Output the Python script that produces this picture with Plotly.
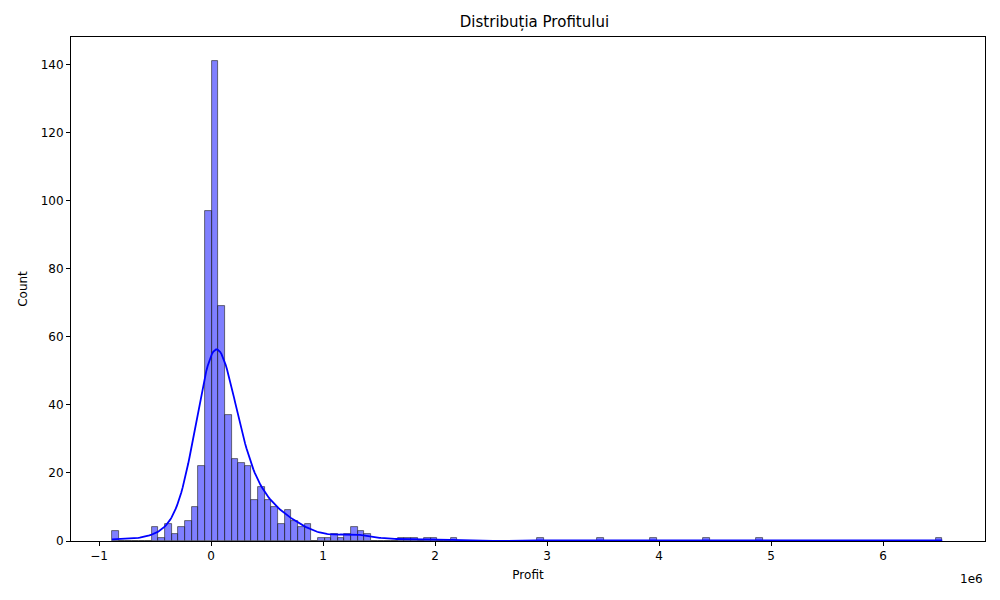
import numpy as np
import plotly.graph_objects as go

x_start = -0.884e6
bin_width = 0.0593e6
counts = [3,0,0,0,0,0,4,1,5,2,4,6,10,22,97,141,69,37,24,23,22,12,16,12,10,5,9,6,4,5,
          0,1,1,2,1,2,4,3,2,0,0,0,0,1,1,1,0,1,1,0,0,1,0,0,0,0,0,0,0,0,0,0,0,0,1,0,0,0,0,0,
          0,0,0,1,0,0,0,0,0,0,0,1,0,0,0,0,0,0,0,1,0,0,0,0,0,0,0,1,0,0,0,0,0,0,0,0,0,0,0,0,
          0,0,0,0,0,0,0,0,0,0,0,0,0,0,1]
xtick_vals = [-1, 0, 1, 2, 3, 4, 5, 6]

counts = np.array(counts, dtype=float)
centers = x_start + bin_width * (np.arange(len(counts)) + 0.5)

n = counts.sum()
mean = (centers * counts).sum() / n
std = np.sqrt(((centers - mean) ** 2 * counts).sum() / n)
bw = std * n ** (-0.2)
grid = np.linspace(centers.min() - bin_width / 2, centers.max() + bin_width / 2, 600)
dens = (counts[None, :] * np.exp(-0.5 * ((grid[:, None] - centers[None, :]) / bw) ** 2)).sum(1)
dens = dens / (n * bw * np.sqrt(2 * np.pi)) * n * bin_width

fig = go.Figure()
fig.add_trace(go.Bar(x=centers, y=counts, width=bin_width,
                     marker=dict(color="rgba(0,0,255,0.5)", line=dict(color="rgba(40,40,40,0.8)", width=0.8)),
                     showlegend=False))
fig.add_trace(go.Scatter(x=grid, y=dens, mode="lines", line=dict(color="#0000ff", width=1.8), showlegend=False))

axis_common = dict(showline=True, linecolor="black", linewidth=1, mirror=True, ticks="outside",
                   ticklen=4, tickcolor="black", showgrid=False, zeroline=False,
                   tickfont=dict(family="DejaVu Sans", size=12, color="black"))
fig.update_layout(
    width=984, height=584, plot_bgcolor="white", paper_bgcolor="white",
    margin=dict(l=63, r=7, t=29, b=51), bargap=0,
    title=dict(text="Distribuția Profitului", x=0.535, xanchor="center", yref="container", y=0.976, yanchor="middle",
               font=dict(family="DejaVu Sans", size=15, color="black")),
    font=dict(family="DejaVu Sans", color="black"),
    xaxis=dict(range=[-1.25e6, 6.91e6], tickvals=[v * 1e6 for v in xtick_vals],
               ticktext=[str(v) if v >= 0 else "\u2212" + str(-v) for v in xtick_vals],
               title=dict(text="Profit", font=dict(size=12), standoff=8), **axis_common),
    yaxis=dict(range=[0, 148.2], dtick=20, title=dict(text="Count", font=dict(size=12), standoff=10), **axis_common),
)
fig.add_annotation(text="1e6", xref="paper", yref="paper", x=1, y=-0.058, xanchor="right", yanchor="top",
                   showarrow=False, font=dict(family="DejaVu Sans", size=12, color="black"))
fig.write_html("out.html")
